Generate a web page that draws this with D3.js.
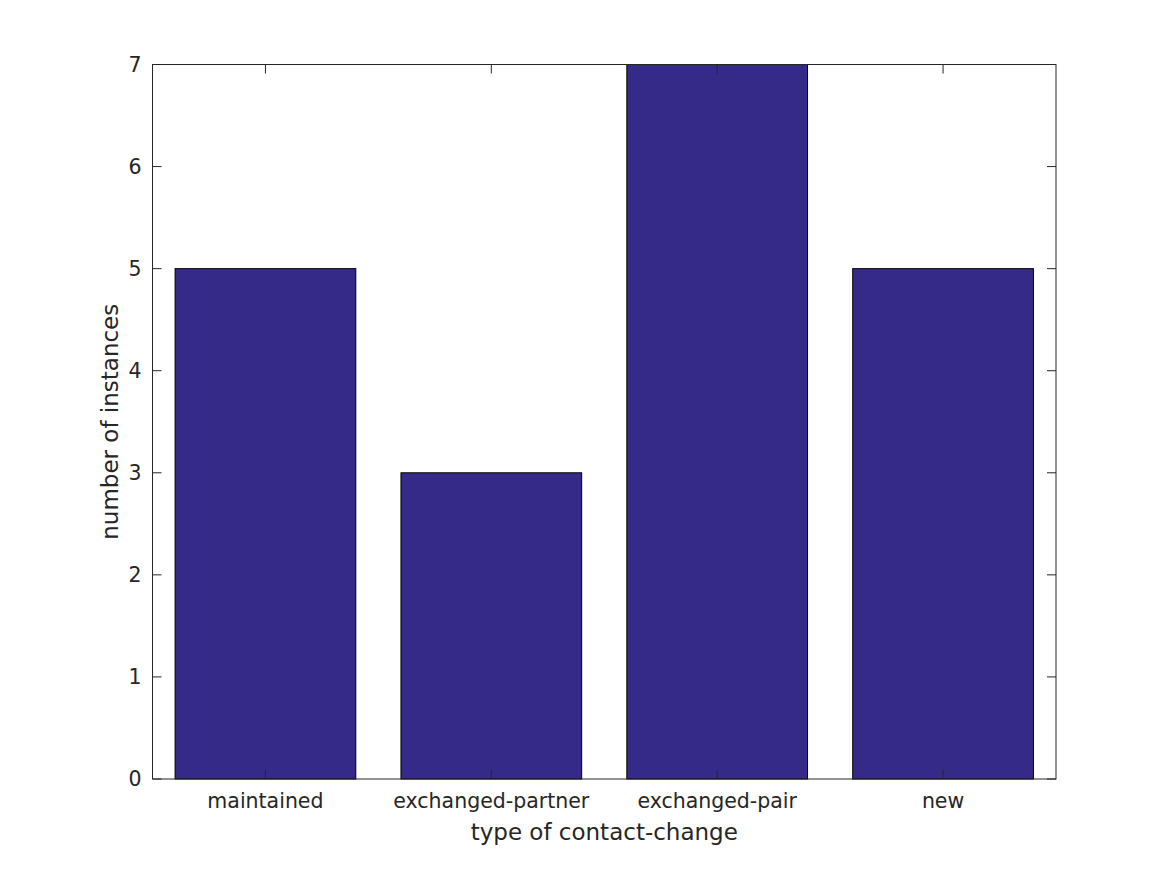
<!DOCTYPE html>
<html><head><meta charset="utf-8">
<script src="https://cdn.jsdelivr.net/npm/d3@7"></script>
<style>body{margin:0;background:#fff}text{font-family:"DejaVu Sans",sans-serif;fill:#262626}</style>
</head><body>
<script>
const categories = ["maintained","exchanged-partner","exchanged-pair","new"];
const values = [5,3,7,5];
const yTicks = [0,1,2,3,4,5,6,7];

const W=1167,H=875, L=152.5, R=1056, T=64.5, B=779;
const svg=d3.select("body").append("svg").attr("width",W).attr("height",H);
const x=d3.scaleLinear().domain([0.5,4.5]).range([L,R]);
const y=d3.scaleLinear().domain([0,7]).range([B,T]);
const bw=0.8;
svg.selectAll("rect.bar").data(values).enter().append("rect")
 .attr("x",(d,i)=>x(i+1-bw/2)).attr("width",(d,i)=>x(i+1+bw/2)-x(i+1-bw/2))
 .attr("y",d=>y(d)).attr("height",d=>y(0)-y(d))
 .attr("fill","#352a87").attr("stroke","#000").attr("stroke-width",1);
const tl=9;
svg.append("rect").attr("x",L).attr("y",T).attr("width",R-L).attr("height",B-T).attr("fill","none").attr("stroke","#262626").attr("stroke-width",1);
const g=svg.append("g").attr("stroke","#262626").attr("stroke-width",1);
yTicks.forEach(v=>{
  g.append("line").attr("x1",L).attr("x2",L+tl).attr("y1",y(v)).attr("y2",y(v));
  g.append("line").attr("x1",R).attr("x2",R-tl).attr("y1",y(v)).attr("y2",y(v));
  svg.append("text").attr("x",L-11).attr("y",y(v)).attr("dy","0.36em").attr("text-anchor","end").attr("font-size",20.5).text(v);
});
categories.forEach((c,i)=>{
  g.append("line").attr("x1",x(i+1)).attr("x2",x(i+1)).attr("y1",B).attr("y2",B-tl);
  g.append("line").attr("x1",x(i+1)).attr("x2",x(i+1)).attr("y1",T).attr("y2",T+tl);
  svg.append("text").attr("x",x(i+1)).attr("y",B+29).attr("text-anchor","middle").attr("font-size",20.5).text(c);
});
svg.append("text").attr("x",(L+R)/2).attr("y",840).attr("text-anchor","middle").attr("font-size",23).text("type of contact-change");
svg.append("text").attr("transform",`translate(118,${(T+B)/2}) rotate(-90)`).attr("text-anchor","middle").attr("font-size",23).text("number of instances");
</script>
</body></html>
